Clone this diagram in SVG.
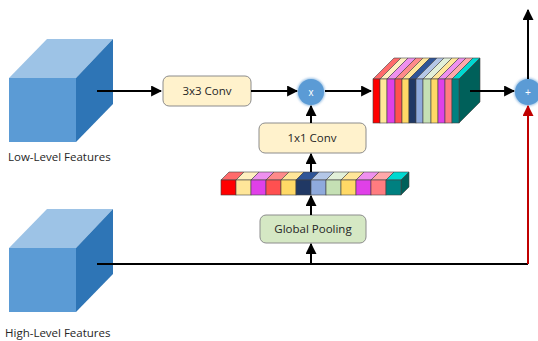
<svg xmlns="http://www.w3.org/2000/svg" width="538" height="341" viewBox="0 0 538 341">
<defs>
<style>
.lbl{font-family:"Open Sans","Liberation Sans",sans-serif;font-size:11.5px;fill:#262626}
.btxt{font-family:"Open Sans","Liberation Sans",sans-serif;font-size:11.5px;fill:#262626;text-anchor:middle}
.ln{stroke:#000;stroke-width:2;fill:none}
.red{stroke:#C00000;stroke-width:2;fill:none}
.conv{fill:#FFF2CC;stroke:#8C8C8C;stroke-width:1}
.pool{fill:#D5E8C4;stroke:#8C8C8C;stroke-width:1}
.op{fill:#5B9BD5}
.optxt{font-family:"Liberation Sans",sans-serif;font-size:10px;fill:#fff;text-anchor:middle}
.cf{fill:#5B9BD5}.ct{fill:#9DC3E6}.cr{fill:#2E75B6}
.cell{stroke:#404040;stroke-width:0.6}
</style>
<marker id="ah" viewBox="0 0 10 10" refX="9" refY="5" markerWidth="5.5" markerHeight="5.5" orient="auto"><path d="M0,0 L10,5 L0,10 z" fill="#000"/></marker>
<marker id="ahr" viewBox="0 0 10 10" refX="9" refY="5" markerWidth="5.5" markerHeight="5.5" orient="auto"><path d="M0,0 L10,5 L0,10 z" fill="#C00000"/></marker>
<filter id="glow" x="-30%" y="-30%" width="160%" height="160%"><feGaussianBlur stdDeviation="1.2"/></filter>
</defs>

<g id="low-level">
<polygon class="ct" points="9,78 47,39 113,39 76,78"/>
<polygon class="cr" points="76,78 113,39 113,104 76,142"/>
<rect class="cf" x="9" y="78" width="67" height="64"/>
<text class="lbl" x="8" y="161">Low-Level Features</text>
</g>

<g id="high-level">
<polygon class="ct" points="9,248 47,209 113,209 76,248"/>
<polygon class="cr" points="76,248 113,209 113,274 76,312"/>
<rect class="cf" x="9" y="248" width="67" height="64"/>
<text class="lbl" x="5" y="337">High-Level Features</text>
</g>

<g id="conv3x3">
<rect class="conv" x="163" y="76" width="88" height="30" rx="6"/>
<text class="btxt" x="207" y="95">3x3 Conv</text>
</g>

<g id="mult">
<circle cx="311" cy="92" r="14" fill="#9DC3E6" filter="url(#glow)"/>
<circle class="op" cx="311" cy="92" r="13"/>
<text class="optxt" x="311" y="96">x</text>
</g>

<g id="conv1x1">
<rect class="conv" x="259" y="123" width="107" height="30" rx="6"/>
<text class="btxt" x="312" y="142">1x1 Conv</text>
</g>

<g id="vector">
<polygon points="221,180 229,172 409,172 401,180" fill="#fff"/>
<polygon class="cell" fill="#FF6B6B" points="221,180 229,172 244,172 236,180"/>
<polygon class="cell" fill="#FFF0C0" points="236,180 244,172 259,172 251,180"/>
<polygon class="cell" fill="#EE90EE" points="251,180 259,172 274,172 266,180"/>
<polygon class="cell" fill="#FF8A8A" points="266,180 274,172 289,172 281,180"/>
<polygon class="cell" fill="#FFE699" points="281,180 289,172 304,172 296,180"/>
<polygon class="cell" fill="#2F5597" points="296,180 304,172 319,172 311,180"/>
<polygon class="cell" fill="#B4C7E7" points="311,180 319,172 334,172 326,180"/>
<polygon class="cell" fill="#E2F0D9" points="326,180 334,172 349,172 341,180"/>
<polygon class="cell" fill="#FFE699" points="341,180 349,172 364,172 356,180"/>
<polygon class="cell" fill="#EE90EE" points="356,180 364,172 379,172 371,180"/>
<polygon class="cell" fill="#FFA8AA" points="371,180 379,172 394,172 386,180"/>
<polygon class="cell" fill="#00D8D0" points="386,180 394,172 409,172 401,180"/>
<polygon class="cell" fill="#00605A" points="401,180 409,172 409,187 401,195"/>
<rect class="cell" fill="#FF0000" x="221" y="180" width="15" height="15"/>
<rect class="cell" fill="#FFE699" x="236" y="180" width="15" height="15"/>
<rect class="cell" fill="#E040E8" x="251" y="180" width="15" height="15"/>
<rect class="cell" fill="#FF5050" x="266" y="180" width="15" height="15"/>
<rect class="cell" fill="#FFD966" x="281" y="180" width="15" height="15"/>
<rect class="cell" fill="#203864" x="296" y="180" width="15" height="15"/>
<rect class="cell" fill="#8FAADC" x="311" y="180" width="15" height="15"/>
<rect class="cell" fill="#C5E0B4" x="326" y="180" width="15" height="15"/>
<rect class="cell" fill="#FFD966" x="341" y="180" width="15" height="15"/>
<rect class="cell" fill="#E040E8" x="356" y="180" width="15" height="15"/>
<rect class="cell" fill="#FF7C80" x="371" y="180" width="15" height="15"/>
<rect class="cell" fill="#008080" x="386" y="180" width="15" height="15"/>
</g>

<g id="pooling">
<rect class="pool" x="260" y="215" width="106" height="28" rx="6"/>
<text class="btxt" x="313" y="233">Global Pooling</text>
</g>

<g id="block">
<polygon class="cell" fill="#FF6B6B" points="373,79 394,58 401,58 380,79"/>
<polygon class="cell" fill="#FFF0C0" points="380,79 401,58 408,58 387,79"/>
<polygon class="cell" fill="#EE90EE" points="387,79 408,58 416,58 395,79"/>
<polygon class="cell" fill="#FF8A8A" points="395,79 416,58 423,58 402,79"/>
<polygon class="cell" fill="#FFE699" points="402,79 423,58 430,58 409,79"/>
<polygon class="cell" fill="#2F5597" points="409,79 430,58 437,58 416,79"/>
<polygon class="cell" fill="#B4C7E7" points="416,79 437,58 444,58 423,79"/>
<polygon class="cell" fill="#E2F0D9" points="423,79 444,58 452,58 431,79"/>
<polygon class="cell" fill="#FFE699" points="431,79 452,58 459,58 438,79"/>
<polygon class="cell" fill="#EE90EE" points="438,79 459,58 466,58 445,79"/>
<polygon class="cell" fill="#FFA8AA" points="445,79 466,58 473,58 452,79"/>
<polygon class="cell" fill="#00D8D0" points="452,79 473,58 480,58 459,79"/>
<polygon class="cell" fill="#00605A" points="459,79 480,58 480,102 459,123"/>
<rect class="cell" fill="#FF0000" x="373" y="79" width="7" height="44"/>
<rect class="cell" fill="#FFE699" x="380" y="79" width="7" height="44"/>
<rect class="cell" fill="#E040E8" x="387" y="79" width="8" height="44"/>
<rect class="cell" fill="#FF5050" x="395" y="79" width="7" height="44"/>
<rect class="cell" fill="#FFD966" x="402" y="79" width="7" height="44"/>
<rect class="cell" fill="#203864" x="409" y="79" width="7" height="44"/>
<rect class="cell" fill="#8FAADC" x="416" y="79" width="7" height="44"/>
<rect class="cell" fill="#C5E0B4" x="423" y="79" width="8" height="44"/>
<rect class="cell" fill="#FFD966" x="431" y="79" width="7" height="44"/>
<rect class="cell" fill="#E040E8" x="438" y="79" width="7" height="44"/>
<rect class="cell" fill="#FF7C80" x="445" y="79" width="7" height="44"/>
<rect class="cell" fill="#008080" x="452" y="79" width="7" height="44"/>
</g>

<g id="add">
<circle cx="528" cy="92" r="14" fill="#9DC3E6" filter="url(#glow)"/>
<circle class="op" cx="528" cy="92" r="13"/>
<text class="optxt" x="528" y="96">+</text>
</g>

<g id="connectors">
<line class="ln" x1="97" y1="91" x2="161" y2="91" marker-end="url(#ah)"/>
<line class="ln" x1="251" y1="91" x2="297" y2="91" marker-end="url(#ah)"/>
<line class="ln" x1="325" y1="91" x2="371" y2="91" marker-end="url(#ah)"/>
<line class="ln" x1="311" y1="123" x2="311" y2="106" marker-end="url(#ah)"/>
<line class="ln" x1="311" y1="172" x2="311" y2="154" marker-end="url(#ah)"/>
<line class="ln" x1="311" y1="215" x2="311" y2="196" marker-end="url(#ah)"/>
<polyline class="ln" points="97,264 528,264"/>
<line class="ln" x1="311" y1="264" x2="311" y2="244" marker-end="url(#ah)"/>
<line class="ln" x1="470" y1="91" x2="514" y2="91" marker-end="url(#ah)"/>
<line class="ln" x1="528" y1="79" x2="528" y2="10" marker-end="url(#ah)"/>
<line class="red" x1="528" y1="264" x2="528" y2="106" marker-end="url(#ahr)"/>
</g>
</svg>
